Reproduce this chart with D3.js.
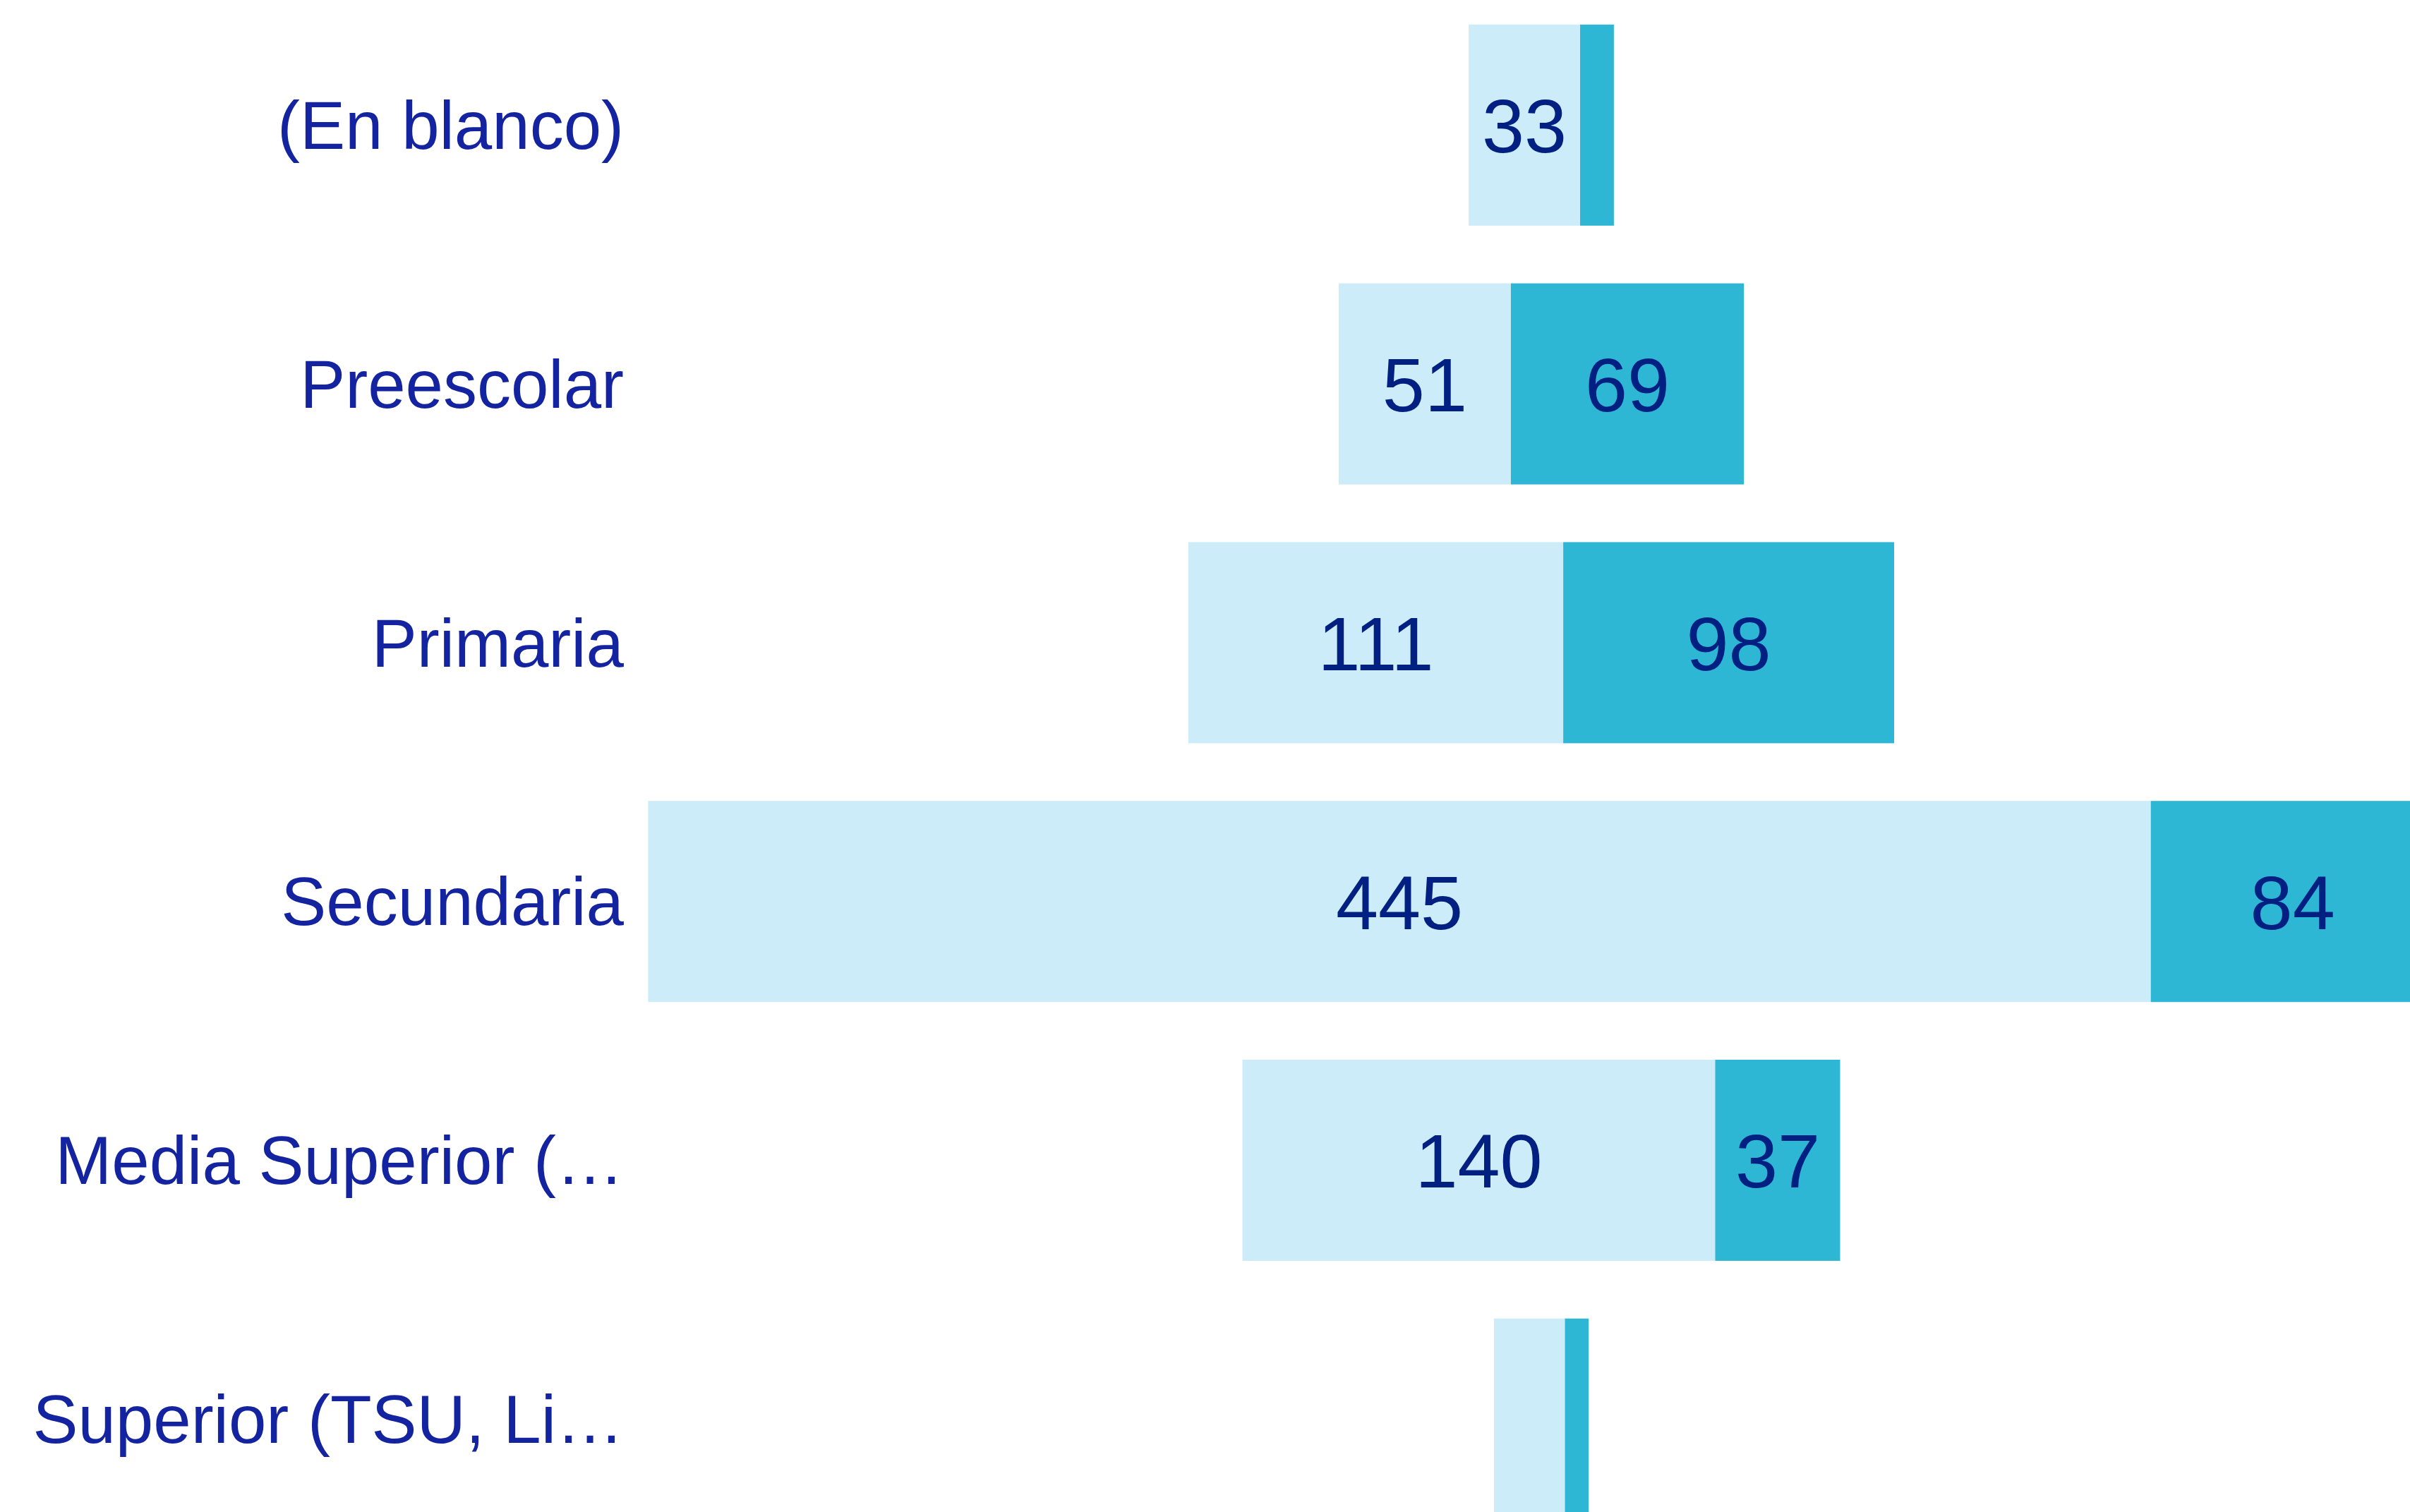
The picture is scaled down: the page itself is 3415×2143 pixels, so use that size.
<!DOCTYPE html>
<html>
<head>
<meta charset="utf-8">
<script src="https://cdn.jsdelivr.net/npm/d3@7/dist/d3.min.js"></script>
<style>
  html, body { margin: 0; padding: 0; background: #fff; overflow: hidden; }
  svg { display: block; }
</style>
</head>
<body>
<div id="chart"></div>
<script>
// categories and the two stacked series
const categories = ["(En blanco)", "Preescolar", "Primaria", "Secundaria", "Media Superior (…", "Superior (TSU, Li…"];
const firstSeries = [33, 51, 111, 445, 140, 21];
const secondSeries = [10, 69, 98, 84, 37, 7];

const width = 3415;
const height = 2143;
const centerX = 2184;
const pxPerUnit = 4.785;
const labelRight = 884;

const lightColor = "#cbecf8";
const darkColor = "#2db7d4";
const labelColor = "#1424a0";
const valueColor = "#022082";

const rows = categories.map((c, i) => ({
  cat: c,
  a: firstSeries[i],
  b: secondSeries[i],
  total: firstSeries[i] + secondSeries[i]
}));

const svg = d3.select("#chart").append("svg")
  .attr("width", width)
  .attr("height", height);

const y = d3.scaleBand()
  .domain(categories)
  .range([-6.1, 2194.7])
  .paddingInner(0.223)
  .paddingOuter(0.1115);

const maxTotal = d3.max(rows, d => d.total);
const w = d3.scaleLinear().domain([0, maxTotal]).range([0, maxTotal * pxPerUnit]);

// category labels on the left
svg.append("g").attr("class", "cat-labels")
  .selectAll("text")
  .data(rows)
  .enter().append("text")
  .attr("x", labelRight)
  .attr("y", d => y(d.cat) + y.bandwidth() / 2)
  .attr("dy", "0.35em")
  .attr("text-anchor", "end")
  .style("font-family", "'Liberation Sans', Arial, sans-serif")
  .style("font-size", "96px")
  .style("fill", labelColor)
  .text(d => d.cat);

// segments: each row centred on centerX
const segs = [];
rows.forEach(d => {
  const left = centerX - w(d.total) / 2;
  segs.push({cat: d.cat, x: left, width: w(d.a), value: d.a, color: lightColor});
  segs.push({cat: d.cat, x: left + w(d.a), width: w(d.b), value: d.b, color: darkColor});
});

const bars = svg.append("g").attr("class", "bars");

bars.selectAll("rect")
  .data(segs)
  .enter().append("rect")
  .attr("x", d => d.x)
  .attr("y", d => y(d.cat))
  .attr("width", d => d.width)
  .attr("height", y.bandwidth())
  .attr("fill", d => d.color);

const valueLabels = bars.selectAll("text")
  .data(segs)
  .enter().append("text")
  .attr("x", d => d.x + d.width / 2)
  .attr("y", d => y(d.cat) + y.bandwidth() / 2)
  .attr("dy", "0.36em")
  .attr("text-anchor", "middle")
  .style("font-family", "'Liberation Sans', Arial, sans-serif")
  .style("font-size", "108px")
  .style("fill", valueColor)
  .text(d => d.value);

// hide labels that do not fit in their segment
valueLabels.each(function(d) {
  if (this.getComputedTextLength() + 10 > d.width) d3.select(this).remove();
});
</script>
</body>
</html>
